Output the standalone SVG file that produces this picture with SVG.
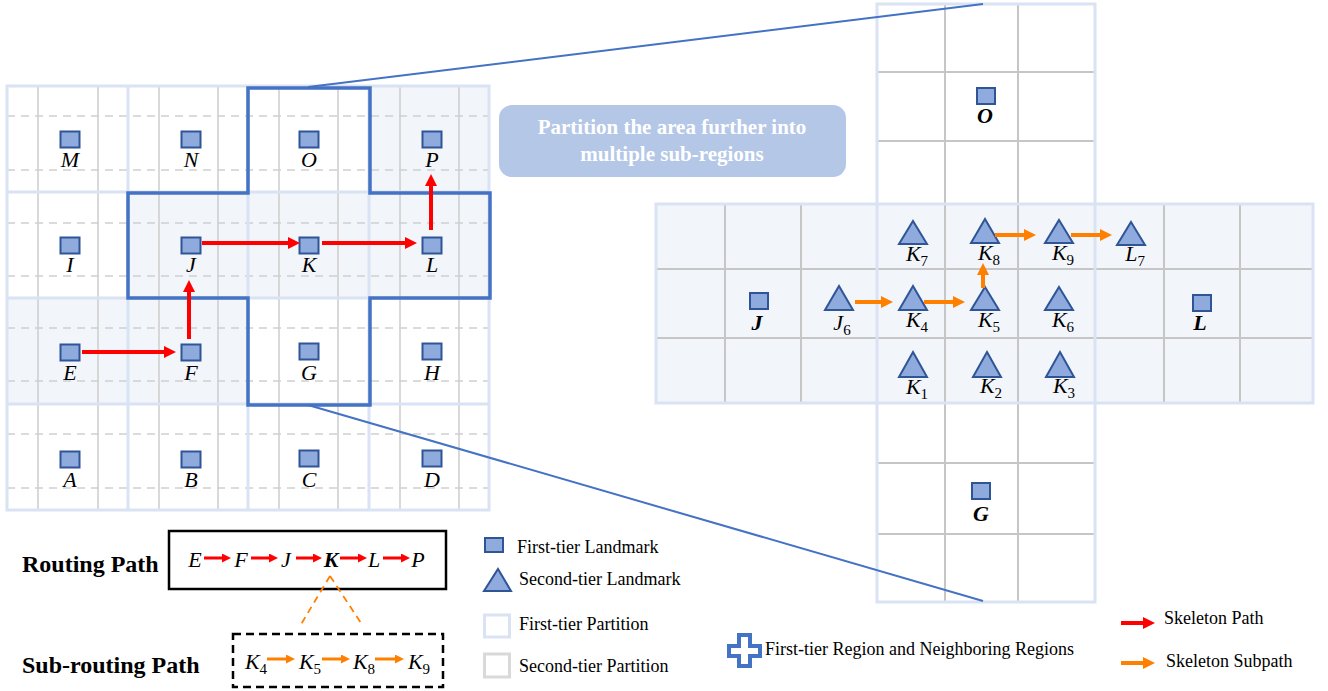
<svg xmlns="http://www.w3.org/2000/svg" width="1328" height="691" viewBox="0 0 1328 691">
<style>
  .shade{fill:#F2F5FA;stroke:none}
  .t1{fill:none;stroke:#DAE3F3;stroke-width:3}
  .t2{stroke:#D0D0D0;stroke-width:1.6;fill:none}
  .t2d{stroke:#D0D0D0;stroke-width:1.6;stroke-dasharray:8 6;fill:none}
  .g2{stroke:#C6C6C6;stroke-width:2;fill:none}
  .lm{fill:#8FAADC;stroke:#2F5597;stroke-width:2}
  .lbl{font-family:"Liberation Serif",serif;font-style:italic;font-size:22px;fill:#000;text-anchor:middle}
  .lblb{font-family:"Liberation Serif",serif;font-style:italic;font-weight:bold;font-size:22px;fill:#000;text-anchor:middle}
  .sub{font-style:normal;font-size:15px}
  .cross{fill:none;stroke:#4472C4;stroke-width:3.5;stroke-linejoin:miter}
  .zoomln{stroke:#4472C4;stroke-width:2;fill:none}
  .red{stroke:#FF0000;stroke-width:4;fill:none;marker-end:url(#ahR)}
  .org{stroke:#FF8000;stroke-width:4;fill:none;marker-end:url(#ahO)}
  .red3{stroke:#FF0000;stroke-width:3;fill:none;marker-end:url(#ahR)}
  .org3{stroke:#FF8000;stroke-width:3;fill:none;marker-end:url(#ahO)}
  .leg{font-family:"Liberation Serif",serif;font-size:18px;fill:#000}
  .head{font-family:"Liberation Serif",serif;font-weight:bold;font-size:24px;fill:#000}
  .call{font-family:"Liberation Serif",serif;font-weight:bold;font-size:21px;fill:#FFFFFF;text-anchor:middle}
</style>
<defs>
  <marker id="ahR" viewBox="0 0 3 3" refX="0" refY="1.5" markerWidth="3" markerHeight="3" orient="auto" markerUnits="strokeWidth"><path d="M0,0 L3,1.5 L0,3 z" fill="#FF0000"/></marker>
  <marker id="ahO" viewBox="0 0 3 3" refX="0" refY="1.5" markerWidth="3" markerHeight="3" orient="auto" markerUnits="strokeWidth"><path d="M0,0 L3,1.5 L0,3 z" fill="#FF8000"/></marker>
</defs>
<rect width="1328" height="691" fill="#FFFFFF"/>

<!-- LEFT GRID -->
<g id="left-grid">
  <rect class="shade" x="369" y="86" width="120" height="106"/>
  <rect class="shade" x="128" y="192" width="361" height="106"/>
  <rect class="shade" x="7" y="298" width="241" height="106"/>
  <path class="t2" d="M38,86V510 M98,86V510 M159,86V510 M218,86V510 M279,86V510 M338,86V510 M400,86V510 M459,86V510"/>
  <path class="t2d" d="M7,116H489 M7,170H489 M7,223H489 M7,276H489 M7,328H489 M7,381H489 M7,434H489 M7,488H489"/>
  <rect class="t1" x="7" y="86" width="482" height="424"/>
  <path class="t1" d="M128,86V510 M248,86V510 M369,86V510 M7,192H489 M7,298H489 M7,404H489"/>
</g>

<g id="region-cross">
  <path class="cross" d="M248,88H370V193H490V298H370V405H248V298H128V193H248Z"/>
</g>

<g id="node-M"><rect class="lm" x="60.5" y="131.5" width="19" height="16"/><text class="lbl" x="70" y="167">M</text></g>
<g id="node-N"><rect class="lm" x="181.5" y="131.5" width="19" height="16"/><text class="lbl" x="191" y="167">N</text></g>
<g id="node-O"><rect class="lm" x="299.5" y="131.5" width="19" height="16"/><text class="lbl" x="309" y="167">O</text></g>
<g id="node-P"><rect class="lm" x="422.5" y="131.5" width="19" height="16"/><text class="lbl" x="432" y="167">P</text></g>
<g id="node-I"><rect class="lm" x="60.5" y="237.5" width="19" height="16"/><text class="lbl" x="70" y="272">I</text></g>
<g id="node-J"><rect class="lm" x="181.5" y="237.5" width="19" height="16"/><text class="lbl" x="191" y="272">J</text></g>
<g id="node-K"><rect class="lm" x="299.5" y="237.5" width="19" height="16"/><text class="lbl" x="309" y="272">K</text></g>
<g id="node-L"><rect class="lm" x="422.5" y="237.5" width="19" height="16"/><text class="lbl" x="432" y="272">L</text></g>
<g id="node-E"><rect class="lm" x="60.5" y="344.5" width="19" height="16"/><text class="lbl" x="70" y="380">E</text></g>
<g id="node-F"><rect class="lm" x="181.5" y="344.5" width="19" height="16"/><text class="lbl" x="191" y="380">F</text></g>
<g id="node-G"><rect class="lm" x="299.5" y="343.5" width="19" height="16"/><text class="lbl" x="309" y="380">G</text></g>
<g id="node-H"><rect class="lm" x="422.5" y="343.5" width="19" height="16"/><text class="lbl" x="432" y="380">H</text></g>
<g id="node-A"><rect class="lm" x="60.5" y="451.5" width="19" height="16"/><text class="lbl" x="70" y="487">A</text></g>
<g id="node-B"><rect class="lm" x="181.5" y="451.5" width="19" height="16"/><text class="lbl" x="191" y="487">B</text></g>
<g id="node-C"><rect class="lm" x="299.5" y="450.5" width="19" height="16"/><text class="lbl" x="309" y="487">C</text></g>
<g id="node-D"><rect class="lm" x="422.5" y="450.5" width="19" height="16"/><text class="lbl" x="432" y="487">D</text></g>

<!-- CALLOUT -->
<g id="callout">
  <rect x="499" y="105" width="347" height="72" rx="13" fill="#B4C7E7"/>
  <text class="call" x="672" y="134">Partition the area further into</text>
  <text class="call" x="672" y="161">multiple sub-regions</text>
</g>

<!-- RIGHT PANEL -->
<g id="right-grid">
  <rect x="877" y="4" width="218" height="598" fill="#FFFFFF"/>
  <rect class="shade" x="656" y="204" width="657" height="199"/>
  <path class="g2" d="M945,4V602 M1018,4V602 M877,72H1095 M877,141H1095 M877,463H1095 M877,534H1095 M656,269H1313 M656,338H1313 M725,204V403 M801,204V403 M1164,204V403 M1240,204V403"/>
  <rect class="t1" x="877" y="4" width="218" height="598"/>
  <rect class="t1" x="656" y="204" width="657" height="199"/>
</g>

<g id="zoom-lines">
  <line class="zoomln" x1="308" y1="87" x2="983" y2="4"/>
  <line class="zoomln" x1="308" y1="405" x2="983" y2="601"/>
</g>

<g id="r-node-O"><rect class="lm" x="977" y="88" width="18" height="16"/><text class="lblb" x="985" y="123">O</text></g>
<g id="r-node-J"><rect class="lm" x="750" y="293" width="18" height="16"/><text class="lblb" x="757" y="330">J</text></g>
<g id="r-node-L"><rect class="lm" x="1193" y="295" width="18" height="16"/><text class="lblb" x="1200" y="330">L</text></g>
<g id="r-node-G"><rect class="lm" x="972" y="483" width="18" height="16"/><text class="lblb" x="981" y="521">G</text></g>

<g id="r-node-J6"><path class="lm" d="M839,286 L853,310 L825,310 Z"/><text class="lbl" x="842" y="330">J<tspan class="sub" dy="5">6</tspan></text></g>
<g id="r-node-K7"><path class="lm" d="M913,221 L927,244 L899,244 Z"/><text class="lbl" x="917" y="261">K<tspan class="sub" dy="5">7</tspan></text></g>
<g id="r-node-K4"><path class="lm" d="M913,286 L927,310 L899,310 Z"/><text class="lbl" x="917" y="327">K<tspan class="sub" dy="5">4</tspan></text></g>
<g id="r-node-K1"><path class="lm" d="M913,352 L927,377 L899,377 Z"/><text class="lbl" x="917" y="394">K<tspan class="sub" dy="5">1</tspan></text></g>
<g id="r-node-K8"><path class="lm" d="M985,219 L999,243 L971,243 Z"/><text class="lbl" x="989" y="260">K<tspan class="sub" dy="5">8</tspan></text></g>
<g id="r-node-K5"><path class="lm" d="M985,287 L999,310 L971,310 Z"/><text class="lbl" x="989" y="327">K<tspan class="sub" dy="5">5</tspan></text></g>
<g id="r-node-K2"><path class="lm" d="M987,352 L1001,377 L973,377 Z"/><text class="lbl" x="991" y="393">K<tspan class="sub" dy="5">2</tspan></text></g>
<g id="r-node-K9"><path class="lm" d="M1059,220 L1073,243 L1045,243 Z"/><text class="lbl" x="1063" y="260">K<tspan class="sub" dy="5">9</tspan></text></g>
<g id="r-node-K6"><path class="lm" d="M1059,287 L1073,310 L1045,310 Z"/><text class="lbl" x="1063" y="327">K<tspan class="sub" dy="5">6</tspan></text></g>
<g id="r-node-K3"><path class="lm" d="M1060,352 L1074,377 L1046,377 Z"/><text class="lbl" x="1064" y="393">K<tspan class="sub" dy="5">3</tspan></text></g>
<g id="r-node-L7"><path class="lm" d="M1131,222 L1145,245 L1117,245 Z"/><text class="lbl" x="1135" y="261">L<tspan class="sub" dy="5">7</tspan></text></g>

<!-- CONNECTORS -->
<g id="connectors">
  <line class="red" x1="82" y1="352" x2="164" y2="352"/>
  <line class="red" x1="189" y1="339" x2="189" y2="292"/>
  <line class="red" x1="202" y1="243" x2="288" y2="243"/>
  <line class="red" x1="322" y1="243" x2="405" y2="243"/>
  <line class="red" x1="431" y1="230" x2="431" y2="186"/>
  <line class="org" x1="855" y1="302" x2="881" y2="302"/>
  <line class="org" x1="924" y1="302" x2="953" y2="302"/>
  <line class="org" x1="983" y1="288" x2="983" y2="275"/>
  <line class="org" x1="995" y1="235" x2="1024" y2="235"/>
  <line class="org" x1="1071" y1="235" x2="1100" y2="235"/>
</g>

<!-- ROUTING PATH LEGEND -->
<g id="routing-path">
  <text class="head" x="22" y="572">Routing Path</text>
  <rect x="169" y="531" width="277" height="58" fill="none" stroke="#000" stroke-width="2.5"/>
  <text class="lbl" x="195" y="567">E</text>
  <text class="lbl" x="241" y="567">F</text>
  <text class="lbl" x="286" y="567">J</text>
  <text class="lblb" x="331" y="567">K</text>
  <text class="lbl" x="374" y="567">L</text>
  <text class="lbl" x="418" y="567">P</text>
  <line class="red3" x1="204" y1="558" x2="222" y2="558"/>
  <line class="red3" x1="251" y1="558" x2="269" y2="558"/>
  <line class="red3" x1="296" y1="558" x2="313" y2="558"/>
  <line class="red3" x1="340" y1="558" x2="358" y2="558"/>
  <line class="red3" x1="383" y1="558" x2="401" y2="558"/>
</g>
<g id="expand-lines">
  <path d="M330,576 L300,626 M330,576 L363,626" stroke="#FF8000" stroke-width="1.8" stroke-dasharray="7 5" fill="none"/>
</g>
<g id="sub-routing-path">
  <text class="head" x="22" y="673">Sub-routing Path</text>
  <rect x="233" y="634" width="210" height="53" fill="none" stroke="#000" stroke-width="2.5" stroke-dasharray="8 5"/>
  <text class="lbl" x="256" y="669">K<tspan class="sub" dy="5">4</tspan></text>
  <text class="lbl" x="310" y="669">K<tspan class="sub" dy="5">5</tspan></text>
  <text class="lbl" x="364" y="669">K<tspan class="sub" dy="5">8</tspan></text>
  <text class="lbl" x="419" y="669">K<tspan class="sub" dy="5">9</tspan></text>
  <line class="org3" x1="267" y1="659" x2="286" y2="659"/>
  <line class="org3" x1="322" y1="659" x2="341" y2="659"/>
  <line class="org3" x1="375" y1="659" x2="395" y2="659"/>
</g>

<!-- LEGEND -->
<g id="legend">
  <rect class="lm" x="485" y="538" width="18" height="14"/>
  <text class="leg" x="517" y="553">First-tier Landmark</text>
  <path class="lm" d="M498,569 L511,591 L484,591 Z"/>
  <text class="leg" x="519" y="585">Second-tier Landmark</text>
  <rect x="484.5" y="615" width="25" height="22" fill="#FFFFFF" stroke="#DAE3F3" stroke-width="3"/>
  <text class="leg" x="519" y="630">First-tier Partition</text>
  <rect x="484.5" y="654" width="25" height="23" fill="#FFFFFF" stroke="#D9D9D9" stroke-width="3"/>
  <text class="leg" x="519" y="672">Second-tier Partition</text>
  <path d="M739,635h11v11h10v10h-10v10h-11v-10h-10v-10h10z" fill="#FFFFFF" stroke="#4472C4" stroke-width="4"/>
  <text class="leg" x="765" y="655">First-tier Region and Neighboring Regions</text>
  <line class="red" x1="1121" y1="623" x2="1143" y2="623"/>
  <text class="leg" x="1164" y="624">Skeleton Path</text>
  <line class="org" x1="1121" y1="663" x2="1143" y2="663"/>
  <text class="leg" x="1166" y="667">Skeleton Subpath</text>
</g>
</svg>
